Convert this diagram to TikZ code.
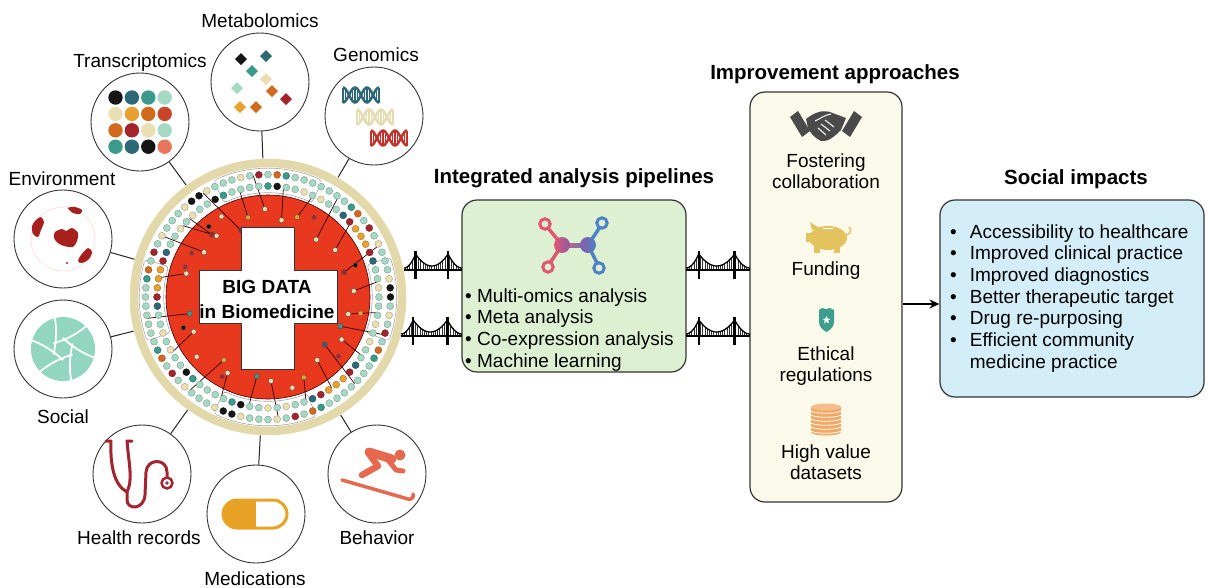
\documentclass[tikz,border=0pt]{standalone}
\usepackage{fontspec}
\setmainfont{Liberation Sans}
\usetikzlibrary{calc,arrows.meta}

\definecolor{redc}{HTML}{E8391E}
\definecolor{ringc}{HTML}{E2D8AA}
\definecolor{cmint}{HTML}{A6D9C4}
\definecolor{cteal}{HTML}{3A9A8C}
\definecolor{cdteal}{HTML}{2C6878}
\definecolor{corange}{HTML}{E8A030}
\definecolor{cburnt}{HTML}{D26A1E}
\definecolor{cdred}{HTML}{A3242B}
\definecolor{cblack}{HTML}{151515}
\definecolor{cbeige}{HTML}{E9DFB2}
\definecolor{csalmon}{HTML}{E8765C}
\definecolor{cred}{HTML}{C9452A}
\definecolor{greenbox}{HTML}{DDF1D2}
\definecolor{creambox}{HTML}{FBFAEA}
\definecolor{bluebox}{HTML}{D3EEF8}
\definecolor{pinkc}{HTML}{E2566E}
\definecolor{bluec}{HTML}{4E82C6}
\definecolor{purplec}{HTML}{8A5CA8}
\definecolor{mintap}{HTML}{92D6C0}
\definecolor{gold}{HTML}{E3C35E}
\definecolor{shieldc}{HTML}{3E9E8C}
\definecolor{coinc}{HTML}{F2A764}
\definecolor{handc}{HTML}{4A4A4A}
\definecolor{stethc}{HTML}{A3232E}
\definecolor{skic}{HTML}{E5694F}
\definecolor{medc}{HTML}{E8A226}
\definecolor{envc}{HTML}{A8201E}
\definecolor{dnared}{HTML}{C4332B}
\definecolor{dnabeige}{HTML}{E6DCB2}

% colour palette for the dots of the data ring
\def\dotpal{{"cmint","cmint","cmint","cmint","cmint","cmint","cmint","cmint","cmint","cmint","cmint","cmint","cmint","cmint","cmint","cmint","cmint","cteal","cteal","corange","corange","cdred","cdred","cdred","cblack","cbeige","cbeige","cburnt","cdteal"}}

\tikzset{
  sat/.style={circle, draw=black!80, line width=0.9pt, fill=white, minimum size=98pt, inner sep=0pt},
  lbl/.style={font=\fontsize{19}{22}\selectfont, inner sep=0pt},
  ttl/.style={font=\bfseries\fontsize{20.5}{24}\selectfont, inner sep=0pt},
  link/.style={draw=black!85, line width=1pt},
  box/.style={draw=black!80, line width=1.2pt, rounded corners=15pt, inner sep=0pt},
  steth/.style={draw=stethc, line width=3pt, line cap=round, line join=round},
  pics/bridge/.style={code={
    \pgfmathsetmacro\bw{#1}
    \pgfmathsetmacro\ta{0.2*\bw}
    \pgfmathsetmacro\tb{0.76*\bw}
    \pgfmathsetmacro\tm{(\ta+\tb)/2}
    \pgfmathsetmacro\th{(\tb-\ta)/2}
    \foreach \hx in {1.2,3.4,...,\bw} {
      \pgfmathsetmacro\yc{\hx<\ta ? -2-14*(\hx/\ta)^2 : (\hx<\tb ? -4-12*((\hx-\tm)/\th)^2 : -2-14*((\bw-\hx)/(\bw-\tb))^2)}
      \draw[black!80, line width=0.55pt] (\hx,\yc) -- (\hx,0);
    }
    \draw[line width=1.3pt] plot[domain=0:\ta, samples=12] (\x,{-2-14*(\x/\ta)^2});
    \draw[line width=1.3pt] plot[domain=\ta:\tb, samples=20] (\x,{-4-12*((\x-\tm)/\th)^2});
    \draw[line width=1.3pt] plot[domain=\tb:\bw, samples=12] (\x,{-2-14*((\bw-\x)/(\bw-\tb))^2});
    \draw[line width=2.4pt] (\ta,-19) -- (\ta,9) (\tb,-19) -- (\tb,9);
    \draw[line width=2.8pt] (0,0) -- (\bw,0);
  }},
  pics/helix/.style={code={
    \draw[#1, line width=2.5pt] plot[domain=-18:18, samples=50] (\x,{7.5*cos(15*(\x+18))});
    \draw[#1, line width=2.5pt] plot[domain=-18:18, samples=50] (\x,{-7.5*cos(15*(\x+18))});
    \foreach \rx in {-18,-15.5,-8.5,-6,-3.5,3.5,6,8.5,15.5,18}
      \draw[#1, line width=1.3pt] (\rx,{7.5*cos(15*(\rx+18))}) -- (\rx,{-7.5*cos(15*(\rx+18))});
  }},
}

\begin{document}
\begin{tikzpicture}[x=1pt, y=-1pt]
\useasboundingbox (0,0) rectangle (1208,587);
\fill[white] (0,0) rectangle (1208,587);

% ---------- hub and satellites ----------
\node[circle, minimum size=277pt, inner sep=0pt] (big) at (268,297) {};

\node[sat] (trans) at (140,122) {};
\node[sat] (metab) at (260,82) {};
\node[sat] (genom) at (374,116) {};
\node[sat] (envir) at (63,239) {};
\node[sat] (socl)  at (63,349) {};
\node[sat] (hrec)  at (142,474) {};
\node[sat] (medic) at (256,514) {};
\node[sat] (behav) at (377,474) {};

\foreach \s in {trans,metab,genom,envir,socl,hrec,medic,behav}
  \draw[link] (\s) -- (big);

\node[lbl, anchor=base] (transl) at (140,67) {Transcriptomics};
\node[lbl, anchor=base] (metabl) at (260,27) {Metabolomics};
\node[lbl, anchor=base] (genoml) at (376,61) {Genomics};
\node[lbl, anchor=base] (envirl) at (62,185) {Environment};
\node[lbl, anchor=base] (soclbl) at (63,423) {Social};
\node[lbl, anchor=base] (hrecl)  at (139,544) {Health records};
\node[lbl, anchor=base] (medicl) at (255,585) {Medications};
\node[lbl, anchor=base] (behavl) at (377,544) {Behavior};

% ---------- the data ring ----------
\begin{scope}[shift={(big.center)}]
  \fill[white] (0,0) circle (138);
  \foreach \a/\b in {-115/-65, -18/20, 68/115, 160/197}
    \draw[black!35, line width=0.6pt, rounded corners=3pt]
      (\a:104) arc[start angle=\a, end angle=\b, radius=104] -- (\b:128.5)
      arc[start angle=\b, end angle=\a, radius=128.5] -- cycle;
  \fill[redc] (0,0) circle (102);
  \draw[black!60!red!60!black, line width=0.6pt] (0,0) circle (102);
  % leader lines from ring dots into the disc
  \foreach \a/\b/\rs/\re/\ec in {
      -140/-130/111/80/cbeige, -122/-112/122.5/72/cdred, -105/-104/111/82/corange,
      -97/-92/122.5/88/cbeige, -82/-80/111/78/cbeige, -66/-70/111/85/corange,
      -55/-50/122.5/75/cbeige, -42/-35/111/82/cbeige, -25/-18/122.5/80/cdred,
      -8/-4/111/86/cbeige, 8/12/111/82/cbeige, 18/22/122.5/78/cteal,
      32/30/111/85/cbeige, 45/40/122.5/74/cdteal, 55/52/111/80/cbeige,
      70/66/111/88/corange, 85/88/122.5/84/cbeige, 100/98/111/80/cteal,
      115/118/111/86/cbeige, 130/125/122.5/77/corange, 150/155/111/82/cbeige,
      170/168/122.5/80/cteal, 190/196/111/85/cbeige, 210/215/122.5/78/cbeige,
      225/228/111/84/cdred} {
    \draw[black!80!red, line width=0.7pt] (\a:\rs) -- (\b:\re);
    \fill[\ec, draw=black!70, line width=0.4pt] (\b:\re) circle (2.6);
  }
  % two rings of data points
  \foreach \rr/\nn in {111/76, 122.5/84} {
    \foreach \i in {1,...,\nn} {
      \pgfmathtruncatemacro\cc{mod(\i*\i+7*\i+round(\rr),29)}
      \pgfmathsetmacro\col{\dotpal[\cc]}
      \pgfmathsetmacro\ang{360/\nn*\i}
      \fill[\col, draw=\col!65!black, line width=0.3pt] (\ang:\rr) circle (3.5);
    }
  }
  % loose points inside the disc
  \foreach \a/\r/\ec in {-150/88/cdred, -130/92/cblack, -60/92/cdred, -20/93/cblack,
      10/94/corange, 40/92/cdred, 75/94/cbeige, 120/92/cdred, 140/93/cbeige,
      160/90/cblack, 200/88/cdred, 240/93/cbeige}
    \fill[\ec, draw=black!60, line width=0.3pt] (\a:\r) circle (2.4);
  % white cross
  \draw[fill=white, draw=black!80, line width=0.8pt]
    (-26.5,-70) -- (26.5,-70) -- (26.5,-26.5) -- (69,-26.5) -- (69,26.5) -- (26.5,26.5)
    -- (26.5,72) -- (-26.5,72) -- (-26.5,26.5) -- (-69,26.5) -- (-69,-26.5) -- (-26.5,-26.5) -- cycle;
  \draw[ringc, line width=8.5pt] (0,0) circle (134);
\end{scope}
\node[font=\bfseries\fontsize{19}{25}\selectfont, inner sep=0pt, anchor=base] (bigt1) at (267,293) {BIG DATA};
\node[font=\bfseries\fontsize{19}{25}\selectfont, inner sep=0pt, anchor=base] (bigt2) at (267,318) {in Biomedicine};

% ---------- satellite icons ----------
% transcriptomics: colour grid
\foreach \row/\cols in {0/{cblack,cdteal,cteal,cmint}, 1/{cbeige,corange,cburnt,cred},
                        2/{cburnt,cdred,cbeige,cmint}, 3/{cteal,cdteal,cblack,csalmon}} {
  \foreach \c [count=\k from 0] in \cols
    \fill[\c] ({115.5+16.4*\k},{97.5+16.4*\row}) circle (7.2);
}
% metabolomics: diamonds
\foreach \px/\py/\pc in {241/59/cblack, 266/56/cdteal, 252/71/cteal, 266/79/cbeige,
    237/88/cmint, 272/91/cburnt, 286/99/cdred, 240/107/corange, 256/107/cburnt}
  \fill[\pc] (\px,{\py-6}) -- ({\px+6},\py) -- (\px,{\py+6}) -- ({\px-6},\py) -- cycle;
% genomics: three helices
\pic at (361,95) {helix=cdteal};
\pic at (375,117) {helix=dnabeige};
\pic at (389,138) {helix=dnared};
% environment: globe
\draw[red!12, line width=0.8pt] (63,239) circle (32);
\fill[envc] plot[smooth cycle] coordinates {(55,232) (62,229) (66,231) (72,228) (78,233) (77,241) (73,247) (64,246) (58,243) (54,238)};
\fill[envc] plot[smooth cycle] coordinates {(68,208) (75,207) (82,210) (80,214) (73,213)};
\fill[envc] plot[smooth cycle] coordinates {(41,217) (44,222) (41,230) (38,237) (33,234) (32,226) (36,220)};
\fill[envc] plot[smooth cycle] coordinates {(88,248) (92,252) (89,259) (82,263) (78,261) (81,255)};
\fill[envc] (67,263) circle (1.2);
% social: aperture
\begin{scope}[shift={(socl.center)}]
  \fill[mintap] (0,0) circle (32);
  \clip (0,0) circle (32);
  \foreach \k in {0,...,5}
    \draw[white, line width=1.8pt] ({60*\k+30}:11) to[bend right=12] ($({60*\k+30}:11)!4!({60*\k+90}:11)$);
\end{scope}
% health records: stethoscope
\draw[steth] (106,441) -- (111,441) .. controls (110,465) and (114,485) .. (127,492);
\draw[steth] (132,441) -- (127,441) .. controls (129,465) and (133,480) .. (127,492);
\draw[steth] (127,492) -- (127,500) .. controls (127,510) and (144,510) .. (145,495)
  -- (146,472) .. controls (147,458) and (167,458) .. (167,472) -- (167,477);
\draw[steth, line width=2.5pt] (167,483) circle (5.5);
\fill[stethc] (167,483) circle (1.8);
% medications: capsule
\begin{scope}
  \clip[rounded corners=14pt] (223,500) rectangle (287,528);
  \fill[medc] (223,500) rectangle (256,528);
\end{scope}
\draw[medc, line width=3pt, rounded corners=14pt] (223,500) rectangle (287,528);
% behavior: skier
\begin{scope}[skic, line cap=round, line join=round]
  \fill (400,455) circle (5.5);
  \draw[line width=9pt] (369,452) -- (392,459);
  \draw[line width=6.5pt] (369,454) -- (378,466) -- (362,475);
  \draw[line width=5pt] (388,460) -- (396,470) -- (403,471);
  \draw[line width=3.5pt] (342,480) -- (408,499) .. controls (412,500) and (414,497) .. (413,494);
\end{scope}

% ---------- boxes ----------
\node[box, fill=greenbox, minimum width=224pt, minimum height=172pt] (green) at (574,286) {};
\node[box, fill=creambox, minimum width=152pt, minimum height=410pt] (impr) at (826,297) {};
\node[box, fill=bluebox, minimum width=264pt, minimum height=197pt] (soc) at (1072,298.5) {};

\node[ttl, anchor=base] (greent) at (574,183) {Integrated analysis pipelines};
\node[ttl, anchor=base] (imprt) at (835,79) {Improvement approaches};
\node[ttl, anchor=base] (soct) at (1076,184) {Social impacts};

% bridges between the hub and the boxes
\coordinate (brA) at (404,270);
\coordinate (brB) at (401,336);
\coordinate (brC) at (686,270);
\coordinate (brD) at (686,336);
\pic at (brA) {bridge=58};
\pic at (brB) {bridge=61};
\pic at (brC) {bridge=64};
\pic at (brD) {bridge=64};

% pipeline icon: network molecule
\begin{scope}[line cap=round]
  \draw[pinkc, line width=3.5pt] (562,245) -- (548,228) (562,245) -- (550,263);
  \draw[bluec, line width=3.5pt] (588,245) -- (600,227) (588,245) -- (597,263);
  \shade[left color=pinkc, right color=bluec] (562,243) rectangle (588,247.5);
  \draw[pinkc, line width=3pt, fill=greenbox] (545,224) circle (5.2) (548,267) circle (5.2);
  \draw[bluec, line width=3pt, fill=greenbox] (602,223) circle (5.2) (599,268) circle (5.2);
  \shade[left color=pinkc, right color=purplec] (562,245) circle (8);
  \shade[left color=purplec, right color=bluec] (588,245) circle (8);
\end{scope}

\node[anchor=base west, inner sep=0pt, font=\fontsize{19}{21.7}\selectfont] (glist) at (465,302)
  {\begin{tabular}[t]{@{}l@{}}
   • Multi-omics analysis\\
   • Meta analysis\\
   • Co-expression analysis\\
   • Machine learning
   \end{tabular}};

% improvement approaches: icons and captions
\fill[handc] (790,117) -- (798,111) -- (810,131) -- (802,137) -- cycle;
\fill[handc] (862,117) -- (854,111) -- (842,131) -- (850,137) -- cycle;
\fill[handc] (806,119) .. controls (815,112) and (822,110) .. (830,112) -- (846,118) -- (841,130)
  .. controls (834,137) and (828,142) .. (821,141) .. controls (815,138) and (811,134) .. (808,128) -- cycle;
\draw[white, line width=1pt] (818,128) -- (826,135) (821,124) -- (830,131) (825,120) -- (834,127)
  (831,114) .. controls (824,115) and (820,119) .. (815,121);
\node[lbl, anchor=base] (fost1) at (826,167) {Fostering};
\node[lbl, anchor=base] (fost2) at (826,188) {collaboration};

\fill[gold] (828,238) ellipse (19 and 12);
\fill[gold] (806,233) rectangle (811,242);
\fill[gold] (812,230) -- (810,222) -- (819,228) -- cycle;
\fill[gold] (814,245) rectangle (820,253);
\fill[gold] (834,245) rectangle (840,253);
\draw[gold, line width=1.5pt] (846,235) .. controls (851,234) and (852,229) .. (849,227);
\draw[white, line width=0.9pt, line cap=round] (823,228) -- (833,228);
\node[lbl, anchor=base] (fund) at (826,275) {Funding};

\fill[shieldc] (819,310) -- (822,308) -- (826,309) -- (830,308) -- (834,310) -- (834,322)
  .. controls (834,327) and (830,330) .. (826.5,332) .. controls (823,330) and (819,327) .. (819,322) -- cycle;
\fill[white] (826.5,316) -- (827.6,318.7) -- (830.4,318.8) -- (828.2,320.6) -- (829,323.4)
  -- (826.5,321.8) -- (824,323.4) -- (824.8,320.6) -- (822.6,318.8) -- (825.4,318.7) -- cycle;
\node[lbl, anchor=base] (eth1) at (826,360) {Ethical};
\node[lbl, anchor=base] (eth2) at (826,381) {regulations};

\fill[coinc] (811,407) rectangle (841,432);
\fill[coinc] (826,432) ellipse (15 and 3.5);
\fill[coinc!75!white] (826,407) ellipse (15 and 3.5);
\foreach \yy in {411,415,...,431}
  \draw[white, line width=0.8pt] (811,\yy) .. controls (815,{\yy+3}) and (837,{\yy+3}) .. (841,\yy);
\node[lbl, anchor=base] (hv1) at (826,458) {High value};
\node[lbl, anchor=base] (hv2) at (826,479) {datasets};

% arrow towards the impacts
\coordinate (arrowy) at (0,304);
\draw[line width=1.6pt, -{Stealth[length=10pt, width=9pt]}] (impr.east |- arrowy) -- (soc.west |- arrowy);

\node[anchor=base west, inner sep=0pt, font=\fontsize{19}{21.7}\selectfont] (slist) at (950,238)
  {\begin{tabular}[t]{@{}l@{\hspace{13pt}}l@{}}
   • & Accessibility to healthcare\\
   • & Improved clinical practice\\
   • & Improved diagnostics\\
   • & Better therapeutic target\\
   • & Drug re-purposing\\
   • & Efficient community\\
     & medicine practice
   \end{tabular}};
\end{tikzpicture}
\end{document}
